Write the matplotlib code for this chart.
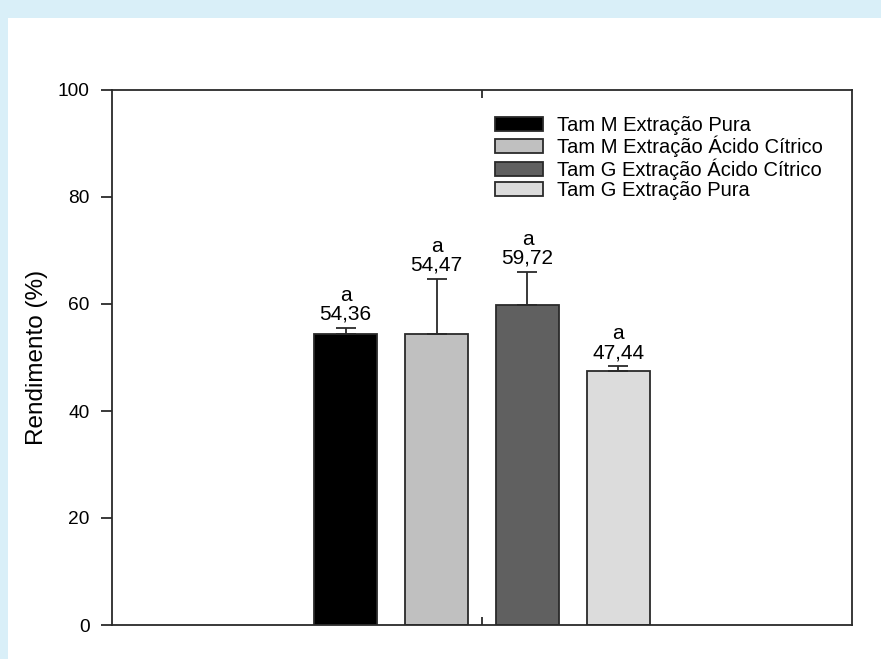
"""Rendimento por tamanho e tipo de extração (barras com erro)."""

import matplotlib

matplotlib.use("Agg")
import matplotlib.pyplot as plt
from matplotlib.patches import Rectangle, Patch

plt.rcParams["font.family"] = ["Liberation Sans", "DejaVu Sans"]

SERIES = [
    "Tam M Extração Pura",
    "Tam M Extração Ácido Cítrico",
    "Tam G Extração Ácido Cítrico",
    "Tam G Extração Pura",
]
MEANS = [54.36, 54.47, 59.72, 47.44]
ERRORS = [1.2, 10.2, 6.3, 0.9]
LETTERS = ["a", "a", "a", "a"]
COLORS = ["#000000", "#c0c0c0", "#606060", "#dcdcdc"]
OFFSETS = [-1.5, -0.5, 0.5, 1.5]

LINE = "#2a2a2a"
LW = 1.3

fig = plt.figure(figsize=(8.81, 6.59), dpi=100, facecolor="#d9eff8")
fig.add_artist(
    Rectangle((8 / 881, 0), 1, 1 - 18 / 659, transform=fig.transFigure,
              facecolor="white", edgecolor="none", zorder=-10)
)
ax = fig.add_axes([112 / 881, 34 / 659, 740 / 881, 535 / 659])
ax.set_zorder(1)

for x, m, e, c, lab in zip(OFFSETS, MEANS, ERRORS, COLORS, LETTERS):
    ax.bar(x, m, width=0.7, color=c, edgecolor=LINE, linewidth=LW, zorder=2)
    ax.errorbar(x, m, yerr=[[0], [e]], fmt="none", ecolor=LINE,
                elinewidth=LW, capsize=7, capthick=LW, zorder=3)
    ax.text(x, m + e + 0.8, f"{lab}\n{m:.2f}".replace(".", ","),
            ha="center", va="bottom", fontsize=15, linespacing=0.98)

ax.set_xlim(-4.07, 4.07)
ax.set_ylim(0, 100)
ax.set_yticks([0, 20, 40, 60, 80, 100])
ax.set_xticks([0])
ax.set_xticklabels([""])
ax.tick_params(axis="y", direction="out", length=8, width=LW, color=LINE,
               labelsize=13.8, pad=8)
ax.tick_params(axis="x", direction="in", length=6, width=LW, color=LINE, top=True)
ax.set_ylabel("Rendimento (%)", fontsize=17.5, labelpad=7)
for s in ax.spines.values():
    s.set_linewidth(LW)
    s.set_color(LINE)

handles = [Patch(facecolor=c, edgecolor=LINE, linewidth=LW) for c in COLORS]
ax.legend(handles, SERIES, loc="upper left", bbox_to_anchor=(0.5176, 0.952),
          frameon=False, fontsize=14.5, handlelength=2.4, handleheight=0.7,
          handletextpad=0.7, labelspacing=0.05, borderaxespad=0, borderpad=0)

fig.savefig("out.png", dpi=100, facecolor=fig.get_facecolor())
